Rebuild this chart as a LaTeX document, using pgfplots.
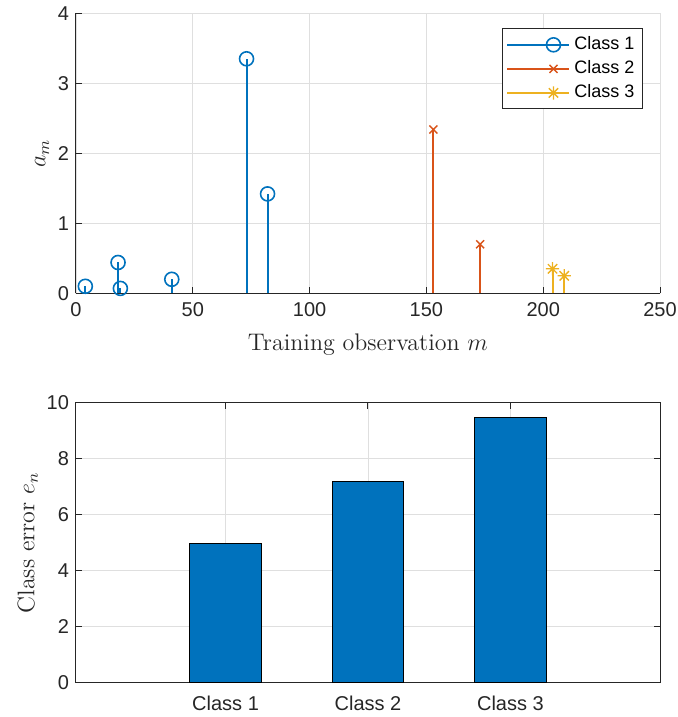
\documentclass[border=0pt]{standalone}
\usepackage{pgfplots}
\pgfplotsset{compat=1.18}
\usepackage{fontspec}
\newfontfamily\sansf{Liberation Sans}
\definecolor{mblue}{HTML}{0072BD}
\definecolor{morange}{HTML}{D95319}
\definecolor{myellow}{HTML}{EDB120}
\definecolor{axgray}{HTML}{262626}
\definecolor{gridgray}{HTML}{DFDFDF}
\pgfdeclareplotmark{mlstar}{%
 \pgfpathmoveto{\pgfqpoint{0pt}{\pgfplotmarksize}}\pgfpathlineto{\pgfqpoint{0pt}{-\pgfplotmarksize}}%
 \pgfpathmoveto{\pgfqpoint{\pgfplotmarksize}{0pt}}\pgfpathlineto{\pgfqpoint{-\pgfplotmarksize}{0pt}}%
 \pgfpathmoveto{\pgfqpoint{.7071\pgfplotmarksize}{.7071\pgfplotmarksize}}\pgfpathlineto{\pgfqpoint{-.7071\pgfplotmarksize}{-.7071\pgfplotmarksize}}%
 \pgfpathmoveto{\pgfqpoint{-.7071\pgfplotmarksize}{.7071\pgfplotmarksize}}\pgfpathlineto{\pgfqpoint{.7071\pgfplotmarksize}{-.7071\pgfplotmarksize}}%
 \pgfusepathqstroke}
\pgfplotsset{
 mlstyle/.style={
  scale only axis, width=292pt, height=140pt,
  tick align=inside, major tick length=3pt,
  grid=major, grid style={color=gridgray, line width=0.4pt},
  axis line style={color=axgray, line width=0.5pt},
  tick style={color=axgray, line width=0.5pt},
  /pgf/number format/assume math mode=true,
  ticklabel style={font=\sansf\fontsize{10}{12}\selectfont, text=axgray},
  label style={font=\fontsize{12}{14}\selectfont, text=axgray},
 },
 stemleg/.style={legend image code/.code={
   \draw[##1, mark=none] (0pt,0pt) -- (23pt,0pt);
   \draw[##1, solid] plot coordinates {(23pt,0pt)};
   \path (0pt,0pt) -- (31pt,0pt);}},
}
\begin{document}
\begin{tikzpicture}
\begin{axis}[mlstyle,
 at={(0,0)}, anchor=south west,
 xmin=0, xmax=250, ymin=0, ymax=4,
 xtick={0,50,...,250}, ytick={0,1,2,3,4},
 axis x line*=bottom, axis y line*=left,
 xticklabel style={yshift=-1pt},
 xlabel={Training observation $m$}, ylabel={$a_m$},
 xlabel style={yshift=-2pt}, ylabel style={yshift=-2.5pt},
 legend style={at={(1,1)}, anchor=north east, xshift=-8.5pt, yshift=-7.5pt,
   font=\sansf\fontsize{9}{11}\selectfont, draw=axgray, line width=0.5pt,
   inner sep=2pt, row sep=0pt},
 legend cell align=left,
]
\addplot[ycomb, color=mblue, line width=1pt, mark=o, mark size=3.5pt,
  mark options={line width=0.8pt}, stemleg]
 coordinates {(4,0.10) (18,0.44) (19,0.07) (41,0.20) (73,3.35) (82,1.42)};
\addlegendentry{Class 1}
\addplot[ycomb, color=morange, line width=1pt, mark=x, mark size=2.8pt,
  mark options={line width=0.7pt}, stemleg]
 coordinates {(153,2.34) (173,0.70)};
\addlegendentry{Class 2}
\addplot[ycomb, color=myellow, line width=1pt, mark=mlstar, mark size=3.3pt,
  mark options={line width=0.7pt}, stemleg]
 coordinates {(204,0.35) (209,0.25)};
\addlegendentry{Class 3}
\end{axis}
\begin{axis}[mlstyle,
 at={(0,-194.7pt)}, anchor=south west,
 xmin=-0.05, xmax=4.05, ymin=0, ymax=10,
 xtick={1,2,3}, xticklabels={Class 1, Class 2, Class 3},
 xticklabel style={yshift=-3pt},
 ytick={0,2,...,10},
 ylabel={Class error $e_n$}, ylabel style={yshift=-2.5pt},
]
\addplot[ybar, bar width=0.5, fill=mblue, draw=black, line width=0.5pt]
 coordinates {(1,4.97) (2,7.20) (3,9.46)};
\end{axis}
\pgfresetboundingbox
\useasboundingbox (-38pt,-211.85pt) rectangle (301pt,146.65pt);
\end{tikzpicture}
\end{document}
